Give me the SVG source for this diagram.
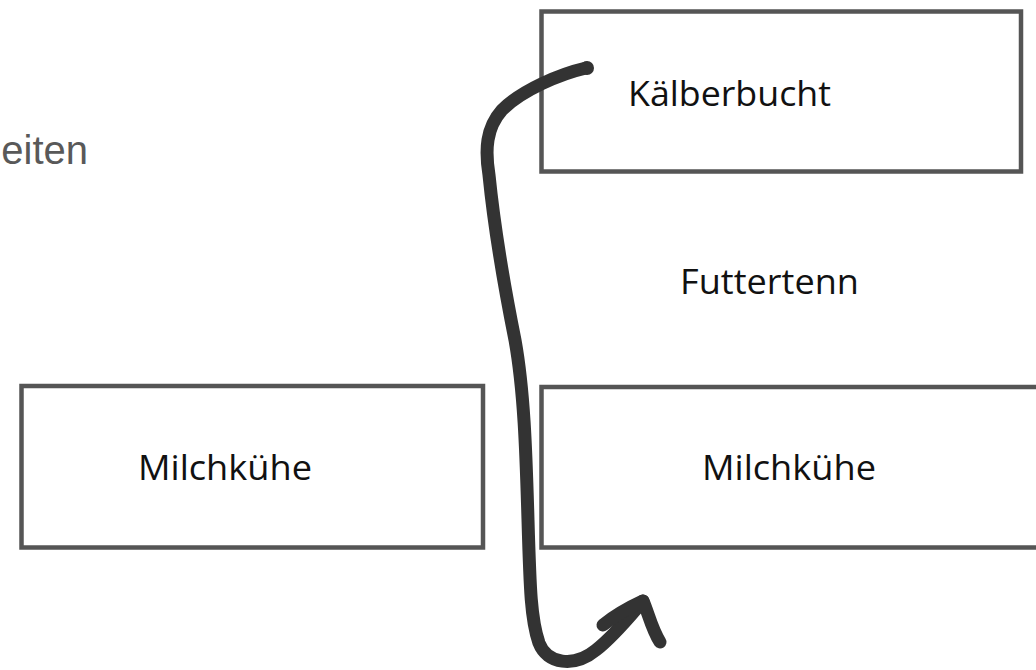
<svg xmlns="http://www.w3.org/2000/svg" width="1036" height="670" viewBox="0 0 1036 670">
  <style>
    .box { fill: #ffffff; stroke: #555555; stroke-width: 4.5; }
    .lbl { font-family: "Open Sans", "Noto Sans", "DejaVu Sans", sans-serif; font-size: 35px; fill: #111111; text-anchor: middle; }
    .side { font-family: "Liberation Sans", Arial, sans-serif; font-size: 40px; fill: #595959; text-anchor: end; }
    .ink { fill: none; stroke: #333333; stroke-width: 13; stroke-linecap: round; stroke-linejoin: round; }
  </style>
  <rect width="1036" height="670" fill="#ffffff"/>
  <text class="side" x="88" y="164">eiten</text>
  <g id="kaelberbucht">
    <rect class="box" x="541.5" y="11.5" width="479.5" height="160"/>
    <text class="lbl" x="729.5" y="106" textLength="203" lengthAdjust="spacingAndGlyphs">Kälberbucht</text>
  </g>
  <g id="futtertenn">
    <text class="lbl" x="769.5" y="294" textLength="179" lengthAdjust="spacingAndGlyphs">Futtertenn</text>
  </g>
  <g id="milchkuehe-links">
    <rect class="box" x="21.5" y="386" width="461.5" height="161.5"/>
    <text class="lbl" x="225" y="480" textLength="174" lengthAdjust="spacingAndGlyphs">Milchkühe</text>
  </g>
  <g id="milchkuehe-rechts">
    <rect class="box" x="541.5" y="387" width="510" height="160.5"/>
    <text class="lbl" x="789" y="480" textLength="174" lengthAdjust="spacingAndGlyphs">Milchkühe</text>
  </g>
  <g id="connectors">
    <path class="ink" d="M 586 68 C 560 74, 522 90, 502 110 C 486 128, 485 150, 489 175 C 494 225, 505 290, 515 340 C 524 390, 526 450, 528 520 C 530 590, 531 620, 539 643 C 547 664, 574 668, 596 650 C 615 635, 630 616, 643 601"/>
    <path class="ink" d="M 603 625 C 617 614, 630 607, 643 601 C 648 612, 652 630, 660 642"/>
    <circle cx="587" cy="68" r="7" fill="#333333"/>
  </g>
</svg>
